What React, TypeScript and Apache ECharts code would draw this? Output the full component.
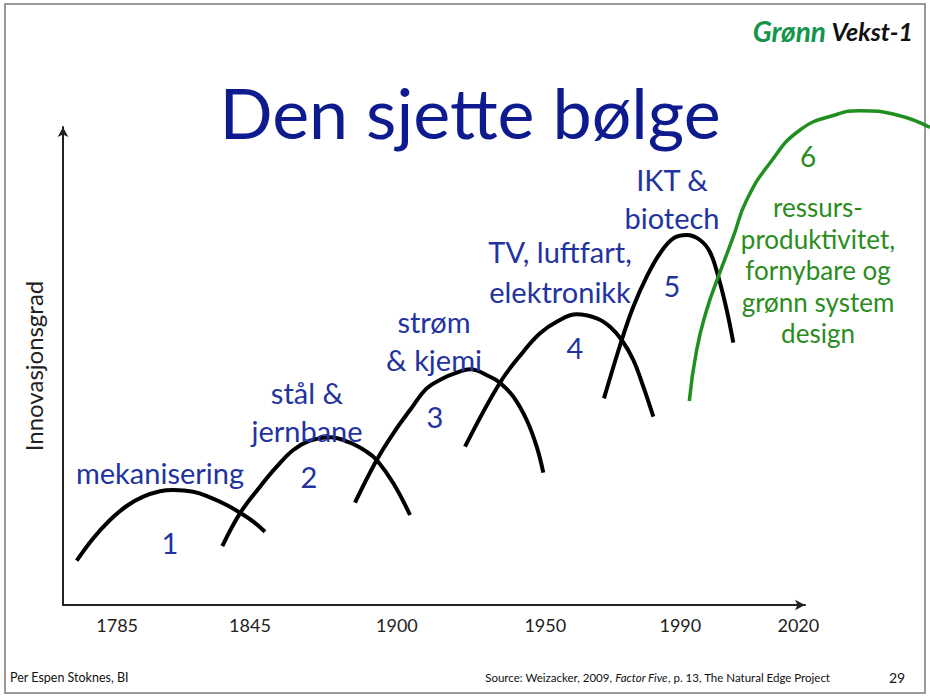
import React, { useEffect, useRef } from 'react';
import * as echarts from 'echarts';

// Axis tick labels and their positions on the (unitless) time axis 0..100
const tickLabels = ['1785', '1845', '1900', '1950', '1990', '2020'];
const tickPositions = [7.3, 25.2, 45.0, 65.0, 83.2, 99.1];

// Wave curves: [time position, innovation degree]
const wave1 = [[1.85, 9.27], [4.08, 13.95], [6.33, 17.78], [8.58, 20.71], [10.82, 22.66], [13.07, 23.79], [14.87, 24.06], [17.56, 23.7], [19.81, 22.53], [22.06, 20.92], [23.85, 19.31], [25.65, 17.43], [27.22, 15.33]];
const wave2 = [[21.47, 12.34], [23.85, 19.18], [26.55, 24.75], [28.8, 28.93], [31.04, 32.43], [33.29, 34.37], [35.98, 35.08], [38.68, 33.95], [40.92, 32.07], [42.28, 30.33], [44.52, 25.46], [46.77, 18.83]];
const wave3 = [[39.35, 21.4], [42.28, 30.33], [44.52, 35.92], [46.77, 40.79], [49.02, 45.33], [51.04, 47.28], [52.6, 48.33], [54.85, 49.31], [57.55, 47.76], [58.89, 46.51], [60.69, 43.58], [62.49, 38.7], [63.84, 33.12], [64.73, 27.68]];
const wave4 = [[54.18, 33.12], [58.89, 46.51], [62.04, 52.99], [64.29, 56.84], [66.54, 59.27], [69.23, 60.82], [71.93, 59.98], [73.72, 58.22], [75.3, 55.44], [76.86, 51.26], [78.21, 45.67], [79.56, 39.39]];
const wave5 = [[72.91, 43.24], [75.3, 55.44], [76.86, 62.41], [78.67, 68.68], [80.46, 73.58], [82.25, 76.72], [84.06, 77.41], [85.85, 76.36], [87.2, 73.8], [88.32, 68.68], [89.45, 61.72], [90.34, 54.87]];
const wave6 = [[84.41, 42.68], [85.4, 53.35], [86.75, 61.72], [88.32, 68.68], [90.34, 77.05], [92.14, 84.73], [95.28, 92.47], [99.33, 99.37], [104.04, 102.51], [107.41, 103.41], [112.4, 102.51], [116.85, 99.9]];

const blackWaves = [wave1, wave2, wave3, wave4, wave5];

const BLUE = '#2233a0';
const GREEN_TXT = '#2b8c1e';
const FONT = 'Lato, "Open Sans", sans-serif';

export default function App() {
  const ref = useRef<HTMLDivElement>(null);
  useEffect(() => {
    if (!ref.current) return;
    const chart = echarts.init(ref.current, null, { renderer: 'svg' });
    const series: any[] = blackWaves.map((w, i) => ({
      type: 'line',
      name: 'wave' + (i + 1),
      data: w,
      smooth: 0.4,
      symbol: 'none',
      clip: false,
      xAxisIndex: 0,
      yAxisIndex: 0,
      lineStyle: { color: '#000', width: 4 },
      z: 3,
    }));
    series.push({
      type: 'line',
      name: 'wave6',
      data: wave6,
      smooth: 0.5,
      symbol: 'none',
      clip: false,
      xAxisIndex: 1,
      yAxisIndex: 1,
      lineStyle: { color: '#1f8f1f', width: 3.5 },
      z: 4,
    });
    const txt = (text: string, x: number, y: number, size: number, fill: string, extra: any = {}) => ({
      type: 'text',
      x,
      y,
      z: 10,
      style: {
        text,
        fill,
        fontSize: size,
        fontFamily: FONT,
        align: 'center',
        verticalAlign: 'middle',
        ...extra,
      },
    });
    const hiddenAxis = {
      show: false,
      type: 'value',
      splitLine: { show: false },
    };
    const option: any = {
      animation: false,
      backgroundColor: '#fff',
      grid: [
        { left: 63, top: 127, width: 742, height: 478 },
        // same scale as grid 0, extended to the right edge and above the top
        { left: 63, top: 79.2, width: 867, height: 525.8 },
      ],
      xAxis: [
        {
          type: 'value',
          gridIndex: 0,
          min: 0,
          max: 100,
          splitLine: { show: false },
          axisTick: { show: false },
          axisLine: {
            show: true,
            lineStyle: { color: '#222', width: 2 },
            symbol: ['none', 'arrow'],
            symbolSize: [8, 10],
          },
          axisLabel: {
            customValues: tickPositions,
            formatter: (v: number) => {
              const i = tickPositions.findIndex((p) => Math.abs(p - v) < 0.01);
              return i >= 0 ? tickLabels[i] : '';
            },
            fontFamily: FONT,
            fontSize: 18,
            color: '#222',
            margin: 11,
          },
        },
        { ...hiddenAxis, gridIndex: 1, min: 0, max: 116.85 },
      ],
      yAxis: [
        {
          type: 'value',
          gridIndex: 0,
          min: 0,
          max: 100,
          name: 'Innovasjonsgrad',
          nameLocation: 'middle',
          nameRotate: 90,
          nameGap: 18,
          nameTextStyle: { fontFamily: FONT, fontSize: 24, color: '#222' },
          splitLine: { show: false },
          axisTick: { show: false },
          axisLabel: { show: false },
          axisLine: {
            show: true,
            lineStyle: { color: '#222', width: 2 },
            symbol: ['none', 'arrow'],
            symbolSize: [8, 10],
          },
        },
        { ...hiddenAxis, gridIndex: 1, min: 0, max: 110 },
      ],
      series,
      graphic: [
        {
          type: 'rect',
          shape: { x: 5, y: 4, width: 920, height: 689 },
          style: { fill: 'none', stroke: '#9a9a9a', lineWidth: 2 },
          z: 0,
        },
        txt('Den sjette bølge', 470, 112, 70, '#0d1b8e'),
        txt('Vekst-1', 913, 31, 25, '#111', { align: 'right', fontWeight: 'bold', fontStyle: 'italic' }),
        txt('Grønn', 826, 31, 28, '#13944a', { align: 'right', fontWeight: 'bold', fontStyle: 'italic' }),
        txt('mekanisering', 160, 472, 29, BLUE),
        txt('1', 170, 542, 29, BLUE),
        txt('stål &\njernbane', 307, 411, 29, BLUE, { lineHeight: 38 }),
        txt('2', 309, 476, 29, BLUE),
        txt('strøm\n& kjemi', 434, 340, 29, BLUE, { lineHeight: 38 }),
        txt('3', 435, 416, 29, BLUE),
        txt('TV, luftfart,\nelektronikk', 560, 271, 29, BLUE, { lineHeight: 40 }),
        txt('4', 575, 347, 29, BLUE),
        txt('IKT &\nbiotech', 672, 198, 29, BLUE, { lineHeight: 38 }),
        txt('5', 672, 285, 29, BLUE),
        txt('6', 808, 156, 28, GREEN_TXT),
        txt('ressurs-\nproduktivitet,\nfornybare og\ngrønn system\ndesign', 818, 270, 26, GREEN_TXT, { lineHeight: 31.5 }),
        txt('Per Espen Stoknes, BI', 10, 677, 12.5, '#111', { align: 'left' }),
        {
          type: 'text',
          x: 830,
          y: 677,
          z: 10,
          style: {
            text: '{n|Source: Weizacker, 2009, }{i|Factor Five}{n|, p. 13, The Natural Edge Project}',
            align: 'right',
            verticalAlign: 'middle',
            rich: {
              n: { fontSize: 11.5, fontFamily: FONT, fill: '#111' },
              i: { fontSize: 11.5, fontFamily: FONT, fill: '#111', fontStyle: 'italic' },
            },
          },
        },
        txt('29', 897, 677, 14, '#111'),
      ],
    };
    chart.setOption(option);
    return () => chart.dispose();
  }, []);
  return (
    <div
      ref={ref}
      style={{ position: 'absolute', left: 0, top: 0, width: 930, height: 697, background: '#fff' }}
    />
  );
}
